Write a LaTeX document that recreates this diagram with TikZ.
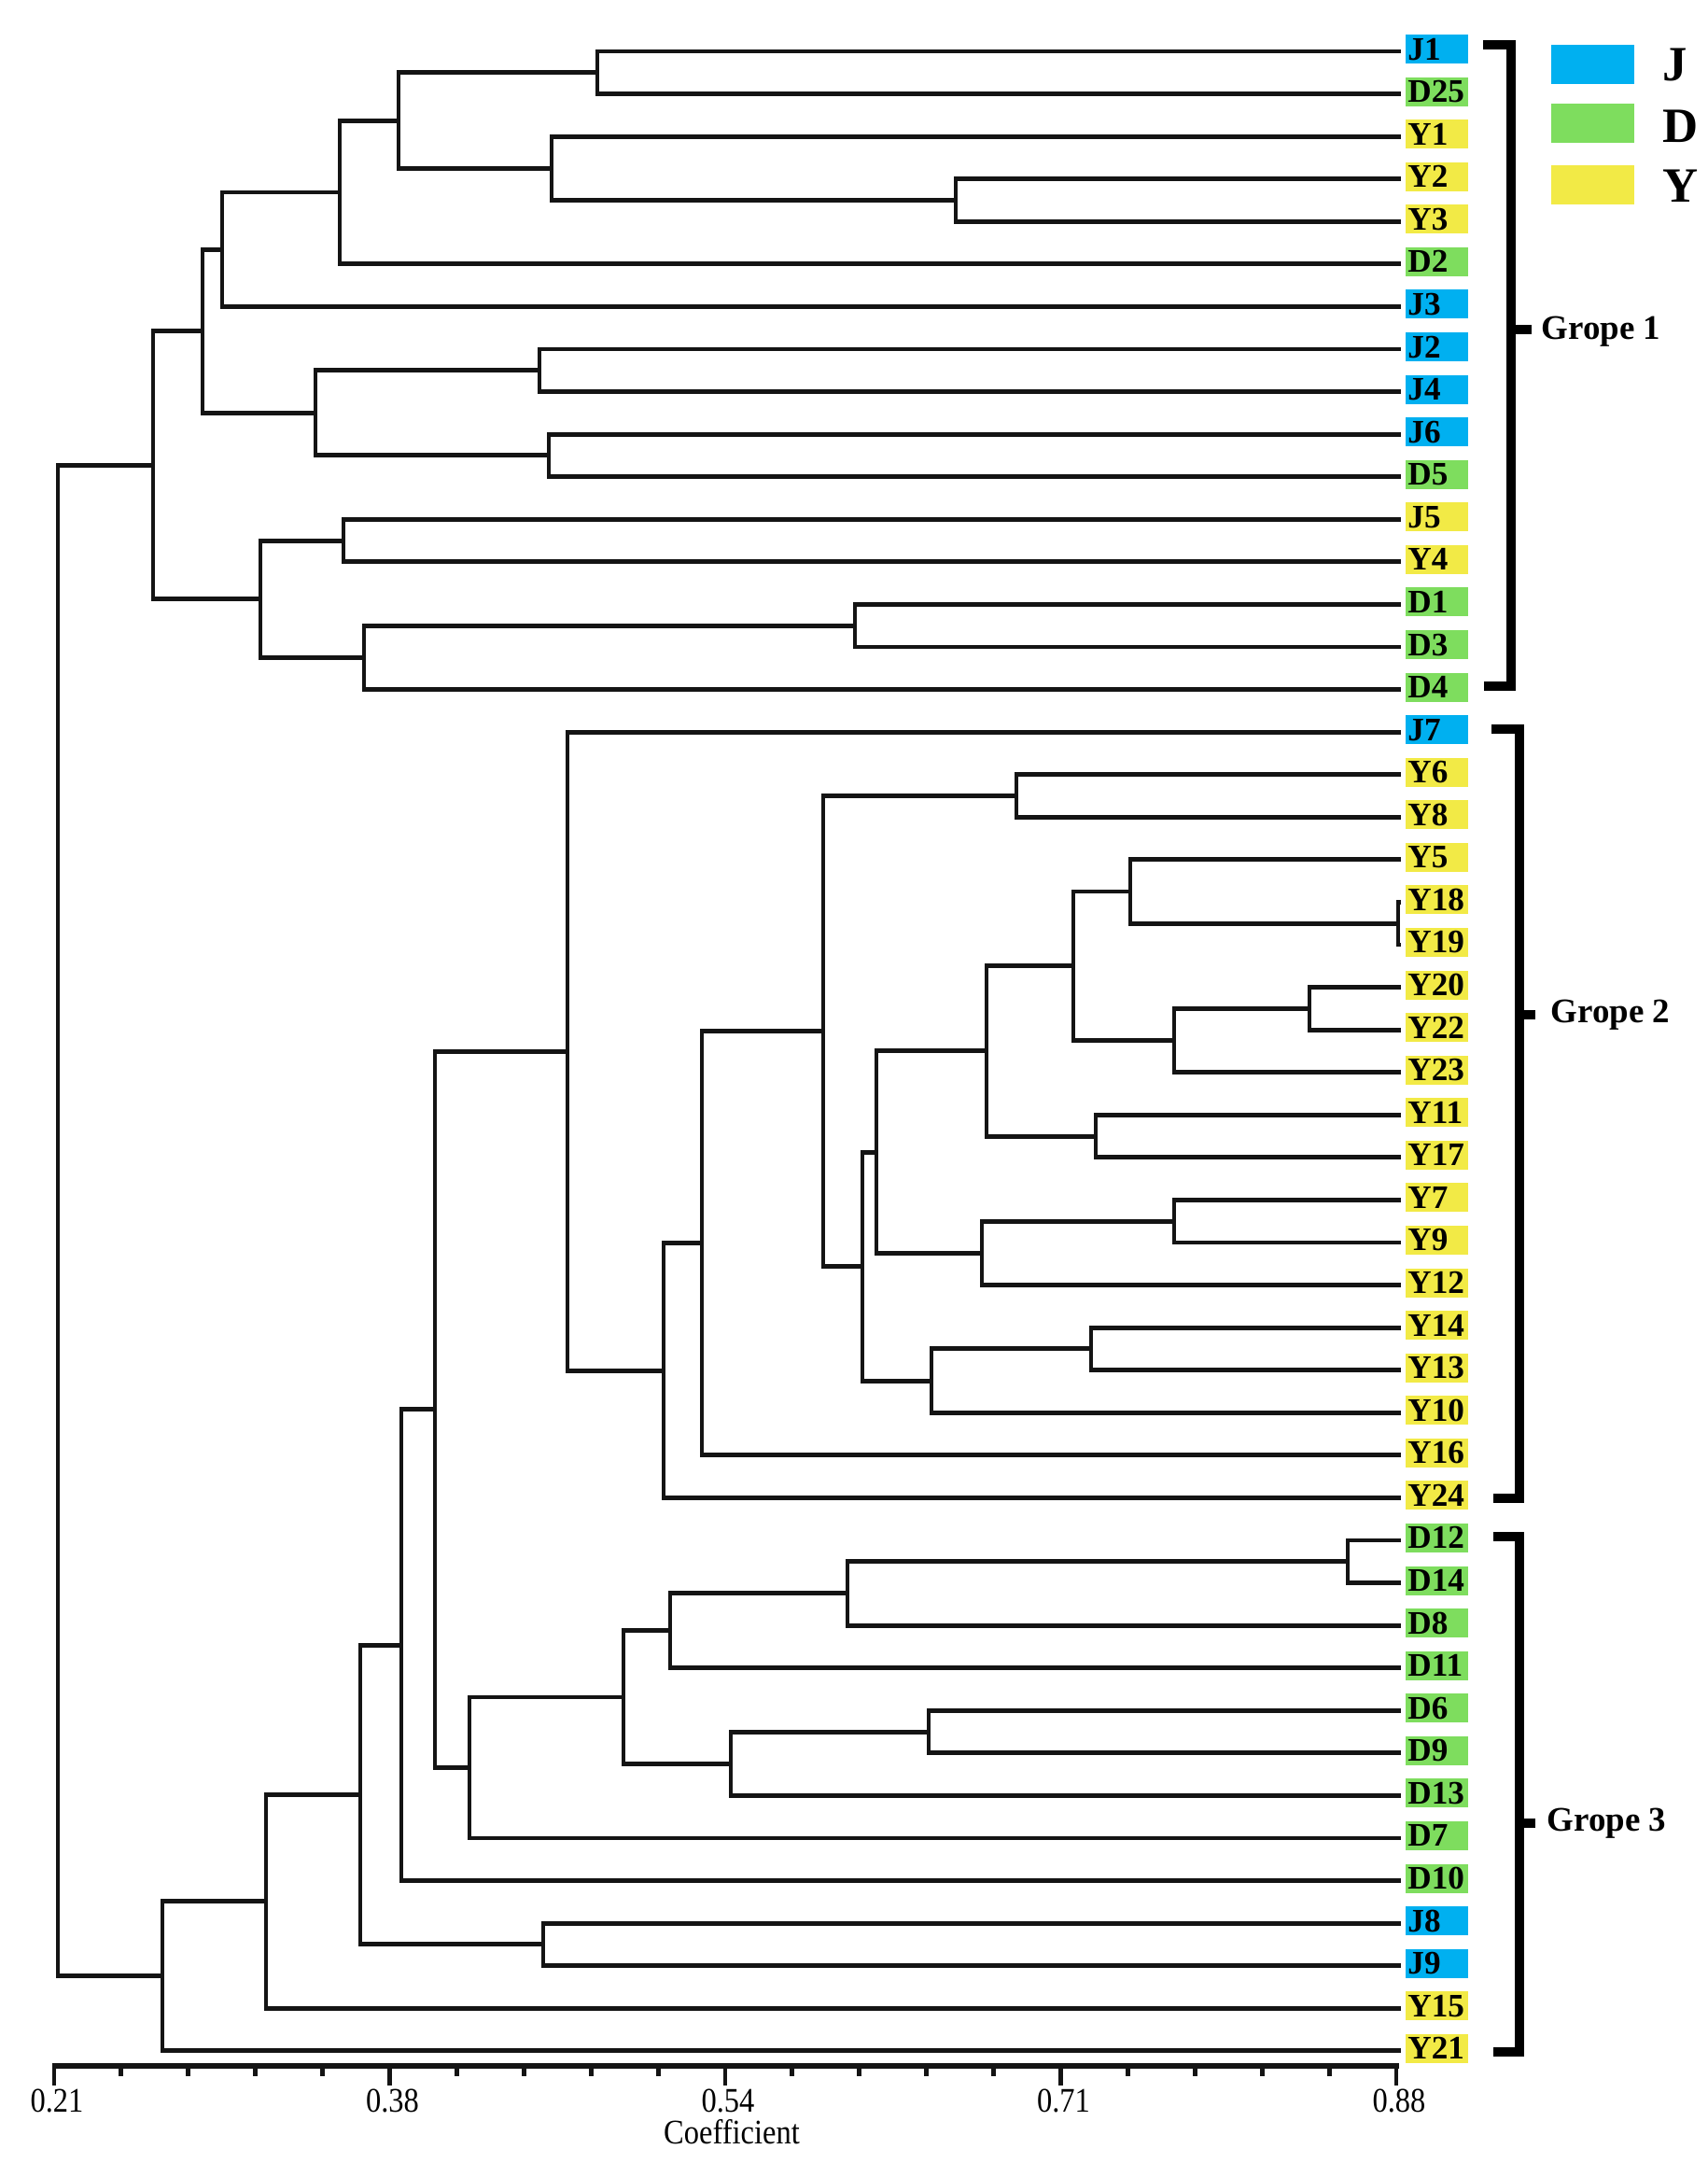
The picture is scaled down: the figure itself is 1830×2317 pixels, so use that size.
\documentclass[tikz,border=0pt]{standalone}
\usepackage{fontspec}
\setmainfont{Liberation Serif}
\usepackage{graphicx}
\usetikzlibrary{calc}
\definecolor{cJ}{RGB}{0,176,240}
\definecolor{cD}{RGB}{126,221,94}
\definecolor{cY}{RGB}{242,234,70}
\definecolor{ink}{RGB}{20,20,20}
\newcommand\mkleaf[3]{%
  \coordinate (c#1) at (1501,{55+45.57*#2});
  \node[leafbox, fill=#3] (#1) at (1539.5,{52.5+45.57*#2}) {#1};}
\newcommand\djoin[4]{%
  \coordinate (tmpm) at ($(#3)!0.5!(#4)$);
  \coordinate (tmpx) at (#2,0);
  \coordinate (#1) at (tmpm -| tmpx);
  \draw[tree] (#3) -| (#1) |- (#4);}
\begin{document}
\begin{tikzpicture}[x=0.01cm,y=-0.01cm,
  tree/.style={draw=ink, line width=1.4pt, line join=miter},
  bracket/.style={draw=black, line width=2.7pt, line join=miter},
  leafbox/.style={inner xsep=0.025cm, inner ysep=0pt, text width=0.62cm, align=left,
    minimum height=0.31cm, text height=0.23cm, text depth=0pt,
    font=\fontsize{10}{12}\selectfont\bfseries},
  legbox/.style={minimum width=0.89cm, minimum height=0.42cm, inner sep=0pt},
  legtext/.style={anchor=west, inner sep=0pt, font=\fontsize{15}{18}\selectfont\bfseries},
  grptext/.style={anchor=west, inner sep=0pt, font=\fontsize{10.5}{12}\selectfont\bfseries},
  axtick/.style={draw=ink, line width=1.4pt},
  axlab/.style={inner sep=0pt, font=\fontsize{10.5}{12}\selectfont}]
\useasboundingbox (0,0) rectangle (1830,2317);

% leaves
\mkleaf{J1}{0}{cJ}
\mkleaf{D25}{1}{cD}
\mkleaf{Y1}{2}{cY}
\mkleaf{Y2}{3}{cY}
\mkleaf{Y3}{4}{cY}
\mkleaf{D2}{5}{cD}
\mkleaf{J3}{6}{cJ}
\mkleaf{J2}{7}{cJ}
\mkleaf{J4}{8}{cJ}
\mkleaf{J6}{9}{cJ}
\mkleaf{D5}{10}{cD}
\mkleaf{J5}{11}{cY}
\mkleaf{Y4}{12}{cY}
\mkleaf{D1}{13}{cD}
\mkleaf{D3}{14}{cD}
\mkleaf{D4}{15}{cD}
\mkleaf{J7}{16}{cJ}
\mkleaf{Y6}{17}{cY}
\mkleaf{Y8}{18}{cY}
\mkleaf{Y5}{19}{cY}
\mkleaf{Y18}{20}{cY}
\mkleaf{Y19}{21}{cY}
\mkleaf{Y20}{22}{cY}
\mkleaf{Y22}{23}{cY}
\mkleaf{Y23}{24}{cY}
\mkleaf{Y11}{25}{cY}
\mkleaf{Y17}{26}{cY}
\mkleaf{Y7}{27}{cY}
\mkleaf{Y9}{28}{cY}
\mkleaf{Y12}{29}{cY}
\mkleaf{Y14}{30}{cY}
\mkleaf{Y13}{31}{cY}
\mkleaf{Y10}{32}{cY}
\mkleaf{Y16}{33}{cY}
\mkleaf{Y24}{34}{cY}
\mkleaf{D12}{35}{cD}
\mkleaf{D14}{36}{cD}
\mkleaf{D8}{37}{cD}
\mkleaf{D11}{38}{cD}
\mkleaf{D6}{39}{cD}
\mkleaf{D9}{40}{cD}
\mkleaf{D13}{41}{cD}
\mkleaf{D7}{42}{cD}
\mkleaf{D10}{43}{cD}
\mkleaf{J8}{44}{cJ}
\mkleaf{J9}{45}{cJ}
\mkleaf{Y15}{46}{cY}
\mkleaf{Y21}{47}{cY}

% group 1
\djoin{g1a}{640}{cJ1}{cD25}
\djoin{g1b}{1024}{cY2}{cY3}
\djoin{g1c}{591}{cY1}{g1b}
\djoin{g1d}{427}{g1a}{g1c}
\djoin{g1e}{364}{g1d}{cD2}
\djoin{g1f}{238}{g1e}{cJ3}
\djoin{g1g}{578}{cJ2}{cJ4}
\djoin{g1h}{588}{cJ6}{cD5}
\djoin{g1i}{338}{g1g}{g1h}
\djoin{g1j}{217}{g1f}{g1i}
\djoin{g1k}{368}{cJ5}{cY4}
\djoin{g1l}{916}{cD1}{cD3}
\djoin{g1m}{390}{g1l}{cD4}
\djoin{g1n}{279}{g1k}{g1m}
\djoin{g1}{164}{g1j}{g1n}

% group 2
\djoin{g2a}{1089}{cY6}{cY8}
\djoin{g2b}{1498}{cY18}{cY19}
\djoin{g2c}{1211}{cY5}{g2b}
\djoin{g2d}{1403}{cY20}{cY22}
\djoin{g2e}{1258}{g2d}{cY23}
\djoin{g2f}{1150}{g2c}{g2e}
\djoin{g2g}{1174}{cY11}{cY17}
\djoin{g2h}{1057}{g2f}{g2g}
\djoin{g2i}{1258}{cY7}{cY9}
\djoin{g2j}{1052}{g2i}{cY12}
\djoin{g2k}{939}{g2h}{g2j}
\djoin{g2l}{1169}{cY14}{cY13}
\djoin{g2m}{998}{g2l}{cY10}
\djoin{g2n}{924}{g2k}{g2m}
\djoin{g2o}{882}{g2a}{g2n}
\djoin{g2p}{752}{g2o}{cY16}
\djoin{g2q}{711}{g2p}{cY24}
\djoin{g2}{608}{cJ7}{g2q}

% group 3 and root
\djoin{g3a}{1444}{cD12}{cD14}
\djoin{g3b}{908}{g3a}{cD8}
\djoin{g3c}{718}{g3b}{cD11}
\djoin{g3d}{995}{cD6}{cD9}
\djoin{g3e}{783}{g3d}{cD13}
\djoin{g3f}{668}{g3c}{g3e}
\djoin{g3g}{503}{g3f}{cD7}
\djoin{r1}{466}{g2}{g3g}
\djoin{r2}{430}{r1}{cD10}
\djoin{g3h}{582}{cJ8}{cJ9}
\djoin{r3}{386}{r2}{g3h}
\djoin{r4}{285}{r3}{cY15}
\djoin{r5}{174}{r4}{cY21}
\djoin{root}{62}{g1}{r5}

% axis
\draw[draw=ink, line width=1.7pt] (55.5,2213) -- (1498.5,2213);
\foreach \k in {0,...,20}
  \draw[axtick] ({58+71.9*\k},2213) -- ({58+71.9*\k},2224);
\foreach \k/\lab in {0/0.21,5/0.38,10/0.54,15/0.71,20/0.88}{
  \draw[axtick] ({58+71.9*\k},2213) -- ({58+71.9*\k},2234);
  \node[axlab] (tick\k) at ({61+71.9*\k},2250) {\scalebox{0.88}[1]{\lab}};
}
\node[axlab] (coef) at (784,2284) {\scalebox{0.88}[1]{Coefficient}};

% group brackets
\draw[bracket] (1589,48) -| (1619,735) -- (1590,735);
\draw[bracket] (1619,353) -- (1641,353);
\node[grptext] (grp1) at (1651,355) {Grope 1};

\draw[bracket] (1598,781) -| (1628,1605) -- (1600,1605);
\draw[bracket] (1628,1087) -- (1645,1087);
\node[grptext] (grp2) at (1661,1087) {Grope 2};

\draw[bracket] (1600,1646) -| (1628,2198) -- (1600,2198);
\draw[bracket] (1628,1953) -- (1645,1953);
\node[grptext] (grp3) at (1657,1953) {Grope 3};

% legend
\node[legbox, fill=cJ] (legJ) at (1706.5,69) {};
\node[legbox, fill=cD] (legD) at (1706.5,132) {};
\node[legbox, fill=cY] (legY) at (1706.5,198) {};
\node[legtext] (legJt) at (1781,69) {J};
\node[legtext] (legDt) at (1781,135) {D};
\node[legtext] (legYt) at (1781,199) {Y};
\end{tikzpicture}
\end{document}
